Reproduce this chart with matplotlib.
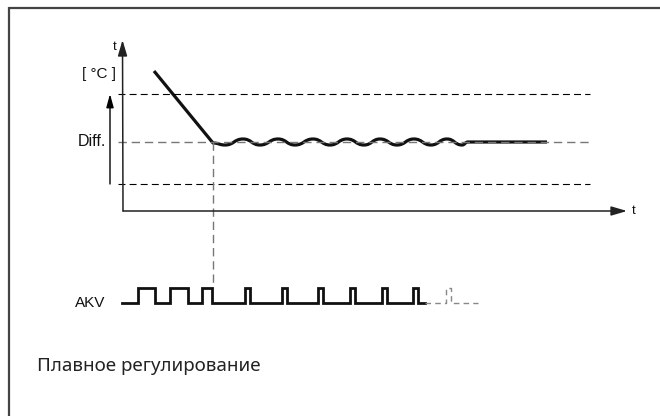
import matplotlib
matplotlib.use("Agg")
import matplotlib.pyplot as plt
from matplotlib.path import Path
from matplotlib.patches import PathPatch

plt.rcParams['lines.scale_dashes'] = False

# temperature levels (arbitrary units, 0 = time axis)
t_axis_end = 504
T_axis_top = 171
T_low = 27
T_set = 69
T_high = 117
band_start, band_end = -5, 467

# cooling ramp before control starts
cool_t = [31, 90]
cool_T = [140, 68]

# oscillation around setpoint (peaks / troughs), then steady
wave_t = [90, 102, 120, 137, 155, 172, 190, 207, 224, 241, 257, 274, 291, 308, 324, 339, 345]
wave_T = [68, 66, 72, 66, 72, 66, 72, 66, 72, 66, 72, 66, 72, 66, 72, 66, 69]
steady_end = 424

# AKV valve pulses (on / off times)
pulse_on = [15, 47, 79, 122, 159, 195, 227, 259, 290]
pulse_off = [32, 65, 89, 127, 164, 200, 232, 264, 295]
akv_start, akv_end = -1, 302
tail_on, tail_off = [323], [328]
tail_end = 355
akv_low, akv_high = -92, -77

caption = "Плавное регулирование"

fig = plt.figure(figsize=(6.6, 4.16), dpi=100)
ax = fig.add_axes([0, 0, 1, 1])
ax.set_xlim(-123, 537)
ax.set_ylim(-205, 211)
ax.axis('off')

# frame
ax.plot([-114.5, 537], [203.5, 203.5], color='#444444', lw=1.6, solid_capstyle='butt')
ax.plot([-114.5, -114.5], [-205, 204.3], color='#444444', lw=1.6, solid_capstyle='butt')

# axes with arrows
arrow = dict(arrowstyle='-|>,head_length=0.95,head_width=0.28', mutation_scale=10,
             color='#222222', lw=1.1, shrinkA=0, shrinkB=0)
ax.annotate('', xy=(-0.5, T_axis_top), xytext=(0, 0), arrowprops=arrow)
ax.annotate('', xy=(t_axis_end, 0), xytext=(0, 0), arrowprops=arrow)

# band limits and setpoint
ax.plot([band_start, band_end], [T_high, T_high], color='black', lw=0.8, dashes=(5, 3))
ax.plot([band_start, band_end], [T_low, T_low], color='black', lw=0.8, dashes=(5, 3))
ax.plot([band_start, band_end], [T_set, T_set], color='#777777', lw=1.0, dashes=(6, 3.5))

# Diff arrow
ax.annotate('', xy=(-13, T_high), xytext=(-13, T_low),
            arrowprops=dict(arrowstyle='-|>,head_length=0.8,head_width=0.22', mutation_scale=10,
                            color='black', lw=1.0, shrinkA=0, shrinkB=0))

# link from start of regulation to valve signal
ax.plot([wave_t[0], wave_t[0]], [T_set, akv_high], color='#777777', lw=1.0, dashes=(6, 3.5))

# temperature curve
verts = [(cool_t[0], cool_T[0]), (cool_t[1], cool_T[1])]
codes = [Path.MOVETO, Path.LINETO]
for i in range(1, len(wave_t)):
    x0, y0 = wave_t[i - 1], wave_T[i - 1]
    x1, y1 = wave_t[i], wave_T[i]
    d = (x1 - x0) / 2
    verts += [(x0 + d, y0), (x1 - d, y1), (x1, y1)]
    codes += [Path.CURVE4] * 3
verts.append((steady_end, wave_T[-1]))
codes.append(Path.LINETO)
ax.add_patch(PathPatch(Path(verts, codes), fill=False, lw=2.3, edgecolor='#111111',
                       joinstyle='round', capstyle='butt'))

# AKV pulse train
xs, ys = [akv_start], [akv_low]
for on, off in zip(pulse_on, pulse_off):
    xs += [on, on, off, off]
    ys += [akv_low, akv_high, akv_high, akv_low]
xs.append(akv_end)
ys.append(akv_low)
ax.plot(xs, ys, color='#111111', lw=2.0, solid_joinstyle='miter')

xs, ys = [akv_end], [akv_low]
for on, off in zip(tail_on, tail_off):
    xs += [on, on, off, off]
    ys += [akv_low, akv_high, akv_high, akv_low]
xs.append(tail_end)
ys.append(akv_low)
ax.plot(xs, ys, color='#888888', lw=1.0, dashes=(4, 3))

# labels
lab = dict(family='Liberation Sans', color='#111111')
ax.text(-8, 164, 't', fontsize=9.5, ha='center', va='center', **lab)
ax.text(-24, 137, '[ °C ]', fontsize=11, ha='center', va='center', **lab)
ax.text(-17, T_set, 'Diff.', fontsize=11.5, ha='right', va='center', **lab)
ax.text(-48, akv_low, 'AKV', fontsize=11, ha='left', va='center', **lab)
ax.text(t_axis_end + 5, 0, 't', fontsize=9.5, ha='left', va='center', **lab)
ax.text(-86, -155, caption, fontsize=13.5, family='Noto Sans', color='#222222',
        ha='left', va='center')

fig.savefig('out.png', dpi=100)
